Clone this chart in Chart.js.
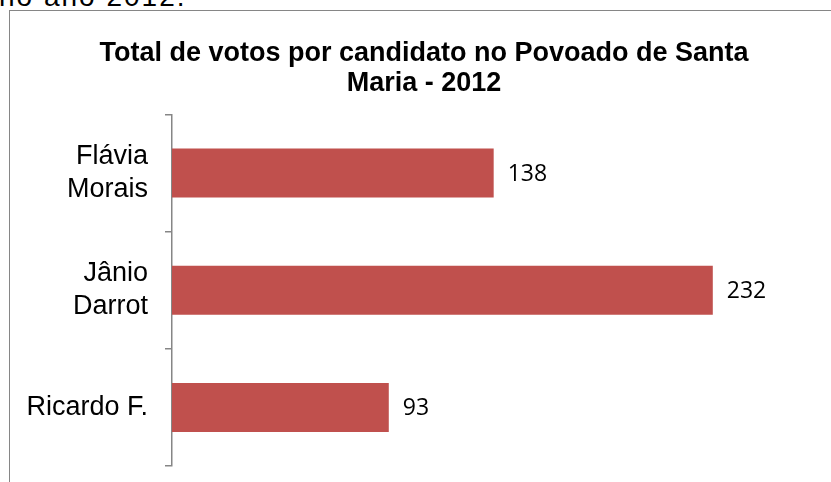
<!DOCTYPE html>
<html>
<head>
<meta charset="utf-8">
<script src="https://cdn.jsdelivr.net/npm/chart.js@4.4.1/dist/chart.umd.min.js"></script>
<style>
  html, body { margin: 0; padding: 0; width: 831px; height: 482px; overflow: hidden; background: #fff; }
  #top { position: absolute; left: -1px; top: -19px; font: 28px "Liberation Sans", Arial, sans-serif; letter-spacing: 2px; color: #000; white-space: nowrap; }
  #frame { position: absolute; left: 9px; top: 10px; width: 900px; height: 600px; border-top: 1.5px solid #868686; border-left: 1.5px solid #868686; }
  #wrap { position: absolute; left: 0; top: 0; width: 848px; height: 482px; }
</style>
</head>
<body>
<div id="top">no ano 2012.</div>
<div id="frame"></div>
<div id="wrap"><canvas id="c"></canvas></div>
<script>
const categories = [["Flávia", "Morais"], ["Jânio", "Darrot"], "Ricardo F."];
const votes = [138, 232, 93];
const titleLines = ["Total de votos por candidato no Povoado de Santa", "Maria - 2012"];

const valueLabels = {
  id: 'valueLabels',
  afterDatasetsDraw(chart) {
    const ctx = chart.ctx;
    const meta = chart.getDatasetMeta(0);
    ctx.save();
    ctx.font = '23px "Open Sans", sans-serif';
    ctx.fillStyle = '#000';
    ctx.textAlign = 'left';
    ctx.textBaseline = 'middle';
    meta.data.forEach((bar, i) => {
      ctx.fillText(String(votes[i]), bar.x + 14, bar.y + 1);
    });
    ctx.restore();
  }
};

new Chart(document.getElementById('c'), {
  type: 'bar',
  data: {
    labels: categories,
    datasets: [{
      data: votes,
      backgroundColor: '#C0504D',
      borderWidth: 0,
      barPercentage: 0.418,
      categoryPercentage: 1.0
    }]
  },
  options: {
    indexAxis: 'y',
    responsive: true,
    maintainAspectRatio: false,
    animation: false,
    layout: { padding: { left: 0, right: 0, top: 0, bottom: 16 } },
    plugins: {
      legend: { display: false },
      tooltip: { enabled: false },
      title: {
        display: true,
        text: titleLines,
        color: '#000',
        font: { family: '"Liberation Sans", Arial, sans-serif', size: 27, weight: 'bold', lineHeight: 1.12 },
        padding: { top: 38, bottom: 16 }
      }
    },
    scales: {
      x: {
        display: false,
        min: 0,
        max: 290
      },
      y: {
        afterFit(scale) { scale.width = 172; scale.paddingTop = 0; scale.paddingBottom = 0; },
        border: { display: true, color: '#868686', width: 1.5 },
        grid: {
          display: true,
          offset: true,
          drawOnChartArea: false,
          drawTicks: true,
          tickLength: 7,
          color: '#868686',
          lineWidth: 1.5
        },
        ticks: {
          color: '#000',
          padding: 17,
          font: { family: '"Liberation Sans", Arial, sans-serif', size: 27, lineHeight: 1.2 }
        }
      }
    }
  },
  plugins: [valueLabels]
});
</script>
</body>
</html>
